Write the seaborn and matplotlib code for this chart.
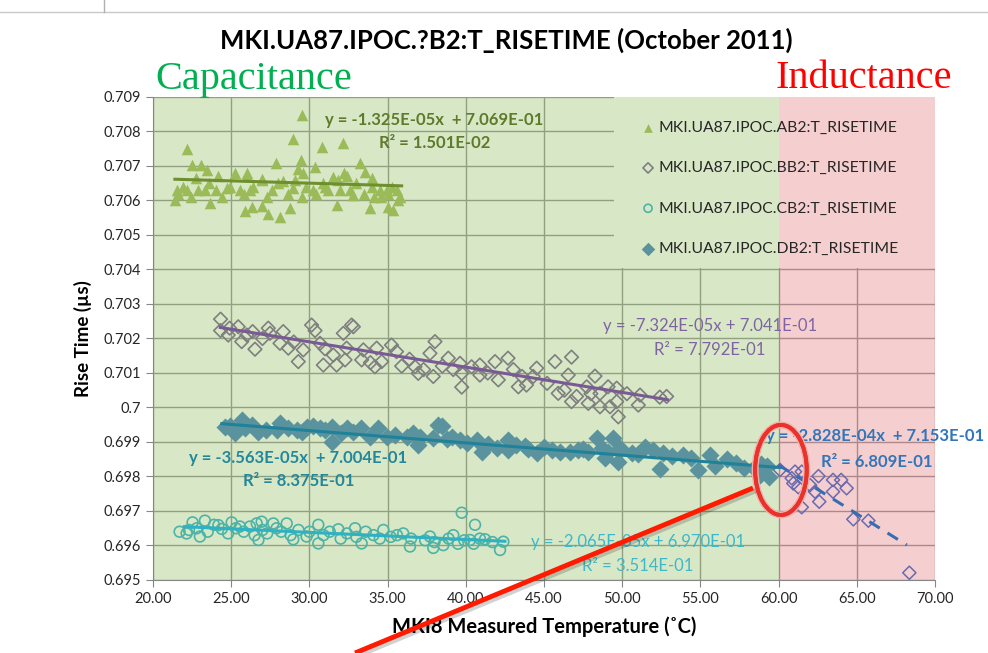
import matplotlib
matplotlib.use("Agg")
import matplotlib.pyplot as plt
import matplotlib.patheffects as pe
from matplotlib.patches import Ellipse, Rectangle
from matplotlib.lines import Line2D
from matplotlib.ticker import FuncFormatter, MultipleLocator
import pandas as pd
import seaborn as sns

# ---- data ----
ab2_x = [29.50, 22.15, 28.93, 30.78, 32.13, 22.50, 23.07, 23.43, 27.86, 29.46, 33.25, 30.36, 29.60,
         24.18, 25.24, 25.99, 26.95, 28.33, 31.53, 32.38, 33.55, 33.98, 22.75, 21.52, 22.15, 23.32,
         24.70, 25.56, 26.20, 27.27, 28.97, 30.25, 31.00, 31.96, 32.80, 34.10, 34.94, 35.68, 21.40,
         23.64, 26.31, 28.12, 28.76, 29.50, 31.74, 33.87, 35.04, 35.36, 25.88, 27.35, 27.00,
         21.60, 21.90, 22.40, 22.90, 23.60, 24.00, 24.40, 24.90, 25.80, 26.40, 27.00, 27.60, 28.00,
         28.60, 29.10, 29.80, 30.40, 30.90, 31.20, 31.80, 32.60, 33.00, 33.50, 34.00, 34.50, 35.00,
         35.30, 35.80, 26.00, 29.30, 32.20, 34.60, 35.60]
ab2_y = [0.70848, 0.70748, 0.70777, 0.70754, 0.70766, 0.70703, 0.70703, 0.70688, 0.70708, 0.70717,
         0.70708, 0.70698, 0.70679, 0.70671, 0.70679, 0.70671, 0.70661, 0.70657, 0.70667, 0.70671,
         0.70684, 0.70664, 0.70664, 0.70630, 0.70630, 0.70630, 0.70635, 0.70630, 0.70630, 0.70611,
         0.70635, 0.70630, 0.70640, 0.70630, 0.70616, 0.70611, 0.70630, 0.70601, 0.70601, 0.70592,
         0.70582, 0.70553, 0.70577, 0.70611, 0.70587, 0.70577, 0.70582, 0.70572, 0.70570, 0.70561,
         0.70584,
         0.70620, 0.70640, 0.70610, 0.70630, 0.70650, 0.70630, 0.70610, 0.70640, 0.70620, 0.70640,
         0.70660, 0.70630, 0.70650, 0.70620, 0.70660, 0.70640, 0.70620, 0.70650, 0.70630, 0.70660,
         0.70630, 0.70650, 0.70620, 0.70640, 0.70630, 0.70620, 0.70640, 0.70610, 0.70680, 0.70690,
         0.70680, 0.70610, 0.70630]

bb2_x = [24.32, 24.32, 24.81, 25.45, 25.67, 26.37, 26.52, 27.37, 27.48, 28.33, 28.12, 28.65, 29.29,
         29.61, 30.14, 30.36, 30.68, 30.89, 31.53, 31.74, 32.17, 32.70, 32.81, 32.38, 32.28, 33.34,
         33.45, 34.30, 34.19, 34.62, 35.25, 35.57, 36.75, 36.96, 37.71, 38.03, 37.92, 38.88, 39.63,
         39.74, 39.74, 40.37, 40.90, 40.90, 41.87, 42.08, 42.70, 43.04, 43.36, 43.88, 44.53, 44.31,
         45.70, 46.76, 45.91, 46.55, 47.08, 46.76, 47.83, 48.26, 47.73, 48.58, 48.58, 49.10, 49.22,
         49.65, 49.65, 49.75, 51.14, 51.03, 52.84,
         24.90, 26.00, 27.00, 29.00, 31.00, 33.90, 35.90, 36.40, 37.30, 38.50, 39.20, 41.40, 43.60,
         45.20, 46.30, 48.00, 50.30, 52.40]
bb2_y = [0.70256, 0.70223, 0.70210, 0.70234, 0.70191, 0.70220, 0.70169, 0.70230, 0.70215, 0.70220,
         0.70186, 0.70172, 0.70133, 0.70167, 0.70239, 0.70223, 0.70186, 0.70123, 0.70152, 0.70123,
         0.70215, 0.70239, 0.70234, 0.70172, 0.70138, 0.70138, 0.70167, 0.70172, 0.70118, 0.70133,
         0.70181, 0.70162, 0.70118, 0.70099, 0.70157, 0.70191, 0.70090, 0.70143, 0.70128, 0.70099,
         0.70059, 0.70118, 0.70123, 0.70094, 0.70133, 0.70080, 0.70143, 0.70110, 0.70060, 0.70065,
         0.70114, 0.70090, 0.70133, 0.70146, 0.70041, 0.70094, 0.70032, 0.70017, 0.70012, 0.70091,
         0.70060, 0.70041, 0.70002, 0.70060, 0.70002, 0.70056, 0.70017, 0.69973, 0.70036, 0.70007,
         0.70032,
         0.70230, 0.70210, 0.70200, 0.70190, 0.70170, 0.70130, 0.70120, 0.70140, 0.70110, 0.70120,
         0.70110, 0.70100, 0.70090, 0.70070, 0.70050, 0.70040, 0.70040, 0.70030]

cb2_x = [22.53, 23.32, 22.15, 23.00, 24.18, 25.03, 25.56, 26.63, 26.95, 27.69, 28.55, 26.74, 28.97,
         29.82, 30.57, 30.57, 31.85, 32.92, 33.34, 34.73, 36.00, 36.43, 37.71, 37.92, 38.56, 39.20,
         39.74, 40.59, 40.27, 41.23, 42.40, 42.19,
         21.70, 22.30, 22.80, 23.50, 23.90, 24.40, 24.80, 25.30, 25.80, 26.20, 26.50, 27.00, 27.30,
         27.90, 28.20, 28.80, 29.30, 30.00, 30.90, 31.30, 32.00, 32.40, 33.00, 33.60, 34.10, 34.50,
         35.20, 35.60, 36.50, 37.40, 38.00, 38.90, 39.50, 39.90, 40.50, 40.90, 41.70]
cb2_y = [0.69667, 0.69672, 0.69635, 0.69626, 0.69659, 0.69667, 0.69655, 0.69664, 0.69669, 0.69664,
         0.69664, 0.69616, 0.69618, 0.69626, 0.69660, 0.69606, 0.69647, 0.69650, 0.69606, 0.69645,
         0.69635, 0.69597, 0.69626, 0.69593, 0.69601, 0.69630, 0.69695, 0.69660, 0.69616, 0.69618,
         0.69611, 0.69587,
         0.69640, 0.69645, 0.69650, 0.69640, 0.69660, 0.69648, 0.69635, 0.69650, 0.69640, 0.69655,
         0.69630, 0.69645, 0.69635, 0.69650, 0.69640, 0.69630, 0.69645, 0.69640, 0.69630, 0.69640,
         0.69620, 0.69635, 0.69625, 0.69640, 0.69630, 0.69620, 0.69625, 0.69630, 0.69620, 0.69615,
         0.69610, 0.69620, 0.69605, 0.69615, 0.69605, 0.69620, 0.69610]

db2_x = [24.60, 25.67, 25.24, 26.74, 28.12, 27.90, 29.18, 29.82, 30.67, 31.42, 31.42, 32.38, 33.87,
         34.40, 34.94, 36.22, 37.07, 36.96, 37.92, 38.24, 38.45, 39.09, 40.05, 40.69, 41.01, 41.97,
         42.71, 42.71, 43.78, 44.53, 45.49, 46.02, 46.66, 47.19, 47.83, 48.37, 48.69, 48.90, 49.43,
         49.86, 49.75, 50.60, 51.46, 51.99, 52.63, 52.42, 53.91, 54.87, 55.63, 55.95, 57.76, 58.40,
         59.23, 58.80, 59.40,
         24.90, 25.90, 26.30, 27.20, 28.60, 29.50, 30.20, 31.00, 32.00, 32.80, 33.30, 35.50, 36.60,
         38.80, 39.60, 41.40, 43.20, 44.00, 45.00, 47.50, 49.10, 51.00, 53.20, 54.40, 56.70, 57.30,
         58.90]
db2_y = [0.69944, 0.69964, 0.69925, 0.69930, 0.69954, 0.69935, 0.69935, 0.69944, 0.69940, 0.69944,
         0.69901, 0.69940, 0.69915, 0.69940, 0.69915, 0.69915, 0.69915, 0.69891, 0.69911, 0.69949,
         0.69946, 0.69915, 0.69896, 0.69906, 0.69872, 0.69882, 0.69906, 0.69877, 0.69888, 0.69867,
         0.69877, 0.69872, 0.69872, 0.69877, 0.69872, 0.69911, 0.69882, 0.69853, 0.69911, 0.69882,
         0.69843, 0.69867, 0.69886, 0.69877, 0.69867, 0.69821, 0.69862, 0.69819, 0.69862, 0.69829,
         0.69824, 0.69824, 0.69829, 0.69804, 0.69800,
         0.69945, 0.69940, 0.69950, 0.69935, 0.69940, 0.69930, 0.69945, 0.69935, 0.69925, 0.69930,
         0.69940, 0.69920, 0.69925, 0.69910, 0.69905, 0.69895, 0.69890, 0.69880, 0.69885, 0.69880,
         0.69870, 0.69865, 0.69860, 0.69855, 0.69850, 0.69840, 0.69835]

# inductance part (T > 60 C)
ind_x = [60.09, 60.84, 61.05, 61.48, 60.94, 61.26, 62.01, 62.33, 62.55, 61.48, 62.60, 63.48, 63.48,
         64.00, 64.35, 64.78, 65.74, 68.36]
ind_y = [0.69819, 0.69795, 0.69814, 0.69814, 0.69780, 0.69769, 0.69775, 0.69756, 0.69801, 0.69711,
         0.69727, 0.69756, 0.69790, 0.69790, 0.69766, 0.69676, 0.69672, 0.69521]

# trendlines: slope, intercept, x range (as printed on the chart)
trends = {
    "AB2": (-1.325e-05, 7.069e-01, 21.4, 35.9),
    "BB2": (-7.324e-05, 7.041e-01, 24.3, 52.9),
    "CB2": (-2.065e-05, 6.970e-01, 22.0, 42.5),
    "DB2": (-3.563e-05, 7.004e-01, 24.4, 60.1),
    "IND": (-2.828e-04, 7.153e-01, 60.0, 68.2),
}
eq_text = {
    "AB2": ("y = -1.325E-05x  + 7.069E-01", "R² = 1.501E-02"),
    "BB2": ("y = -7.324E-05x + 7.041E-01", "R² = 7.792E-01"),
    "CB2": ("y = -2.065E-05x + 6.970E-01", "R² = 3.514E-01"),
    "DB2": ("y = -3.563E-05x  + 7.004E-01", "R² = 8.375E-01"),
    "IND": ("y = -2.828E-04x  + 7.153E-01", "R² = 6.809E-01"),
}

W, H = 988, 653
plt.rcParams['font.family'] = ['Lato', 'DejaVu Sans']
fig = plt.figure(figsize=(W / 100, H / 100), dpi=100)
ax = fig.add_axes([153 / W, 1 - 580 / H, (935 - 153) / W, (580 - 97) / H])
ax.set_xlim(20, 70)
ax.set_ylim(0.695, 0.709)

# grid first, then tinted overlays (as in the source picture)
ax.set_axisbelow(True)
ax.xaxis.set_major_locator(MultipleLocator(5))
ax.yaxis.set_major_locator(MultipleLocator(0.001))
ax.grid(True, color='#6f6f6f', lw=1.0)
ax.add_patch(Rectangle((49.5, 0.70405), 20.5, 0.00495, color='white', zorder=0.8, lw=0))
ax.axvspan(20, 60, color='#b3d391', alpha=0.5, zorder=1, lw=0)
ax.axvspan(60, 70, color='#eda1a1', alpha=0.5, zorder=1, lw=0)

sns.scatterplot(x=ab2_x, y=ab2_y, marker='^', s=70, color='#9bbb59', edgecolor='#9bbb59',
                linewidth=0, ax=ax, zorder=3, label='MKI.UA87.IPOC.AB2:T_RISETIME')
sns.scatterplot(x=bb2_x, y=bb2_y, marker='D', s=48, facecolor='none', edgecolor='#7f7f7f',
                linewidth=1.2, ax=ax, zorder=3, label='MKI.UA87.IPOC.BB2:T_RISETIME')
sns.scatterplot(x=cb2_x, y=cb2_y, marker='o', s=60, facecolor='none', edgecolor='#4db3a6',
                linewidth=1.2, ax=ax, zorder=3, label='MKI.UA87.IPOC.CB2:T_RISETIME')
sns.scatterplot(x=db2_x, y=db2_y, marker='D', s=85, color='#5a939e', edgecolor='#5a939e',
                linewidth=0, ax=ax, zorder=3, label='MKI.UA87.IPOC.DB2:T_RISETIME')
sns.scatterplot(x=ind_x, y=ind_y, marker='D', s=45, facecolor='none', edgecolor='#6a6ab0',
                linewidth=1.1, ax=ax, zorder=3)

trend_style = {
    "AB2": dict(color='#6e8f2e', lw=2.2, ls='-'),
    "BB2": dict(color='#7a5a94', lw=2.2, ls='-'),
    "CB2": dict(color='#2fb1c4', lw=2.2, ls='-'),
    "DB2": dict(color='#1f8299', lw=2.2, ls='-'),
    "IND": dict(color='#3a6db0', lw=2.2, ls=(0, (4, 3))),
}
for k, (m, b, x0, x1) in trends.items():
    tl = pd.DataFrame({'x': [x0, x1], 'y': [m * x0 + b, m * x1 + b]})
    sns.lineplot(data=tl, x='x', y='y', ax=ax, zorder=4, legend=False, **trend_style[k])

# equation labels
eq_pos = {
    "AB2": ((38.0, 0.70833), (38.0, 0.70767), '#5e7a2a', 'bold'),
    "BB2": ((55.6, 0.70236), (55.6, 0.70167), '#8064a2', 'normal'),
    "CB2": ((51.0, 0.69610), (51.0, 0.69540), '#3db8c8', 'normal'),
    "DB2": ((29.3, 0.69854), (29.3, 0.69787), '#23879b', 'bold'),
    "IND": ((66.15, 0.69917), (66.3, 0.69842), '#3375b9', 'bold'),
}
for k, (p1, p2, c, wgt) in eq_pos.items():
    ax.text(p1[0], p1[1], eq_text[k][0], color=c, fontsize=12, fontweight=wgt,
            ha='center', va='center', zorder=5, clip_on=False)
    ax.text(p2[0], p2[1], eq_text[k][1], color=c, fontsize=12, fontweight=wgt,
            ha='center', va='center', zorder=5, clip_on=False)

# red ellipse highlighting the transition
ell = Ellipse((60.15, 0.69819), 3.3, 0.00261, fill=False, ec='#e8322b', lw=2.8, zorder=6,
              path_effects=[pe.withStroke(linewidth=5, foreground='#f2b0a8'), pe.Normal()])
ax.add_patch(ell)

leg = ax.legend(loc='upper left', bbox_to_anchor=(0.615, 0.964), frameon=False, fontsize=11.3,
                labelspacing=1.68, handletextpad=0.15, handlelength=1.0, borderaxespad=0,
                markerscale=0.75)
for t in leg.get_texts():
    t.set_color('#262626')

# axes decoration
ax.xaxis.set_major_formatter(FuncFormatter(lambda v, p: f"{v:.2f}"))
ax.yaxis.set_major_formatter(FuncFormatter(lambda v, p: f"{v:.3f}".rstrip('0')))
ax.tick_params(axis='both', labelsize=10.5, colors='#868686', labelcolor='#262626', length=5,
               direction='out')
for s in ['top', 'right']:
    ax.spines[s].set_visible(False)
for s in ['left', 'bottom']:
    ax.spines[s].set_color('#868686')
ax.set_xlabel('MKI8 Measured Temperature (˚C)', fontsize=14.5, fontweight='bold', labelpad=8,
              color='#000000')
ax.set_ylabel('Rise Time (µs)', fontsize=13.5, fontweight='bold', labelpad=8, color='#000000')

fig.text(506 / W, 1 - 40 / H, 'MKI.UA87.IPOC.?B2:T_RISETIME (October 2011)', ha='center',
         va='center', fontsize=18.5, fontweight='bold')
fig.text(155 / W, 1 - 79 / H, 'Capacitance', ha='left', va='center', fontsize=29,
         family='Liberation Serif', color='#00b050')
fig.text(952 / W, 1 - 79 / H, 'Inductance', ha='right', va='center', fontsize=29,
         family='Liberation Serif', color='#ff0000')

# red arrow-line drawn over the slide
red = Line2D([355 / W, 753 / W], [0.0, 1 - 488 / H], transform=fig.transFigure, color='#ff1a00',
             lw=3.5, zorder=10, solid_capstyle='butt',
             path_effects=[pe.SimpleLineShadow(offset=(2, -2), alpha=0.18), pe.Normal()])
fig.add_artist(red)
# slide frame remnants
fig.add_artist(Line2D([0, 1], [1 - 12 / H, 1 - 12 / H], transform=fig.transFigure,
                      color='#c8c8c8', lw=1))
fig.add_artist(Line2D([104 / W, 104 / W], [1 - 12 / H, 1], transform=fig.transFigure,
                      color='#b0b0b0', lw=1))

fig.savefig('out.png', dpi=100)
